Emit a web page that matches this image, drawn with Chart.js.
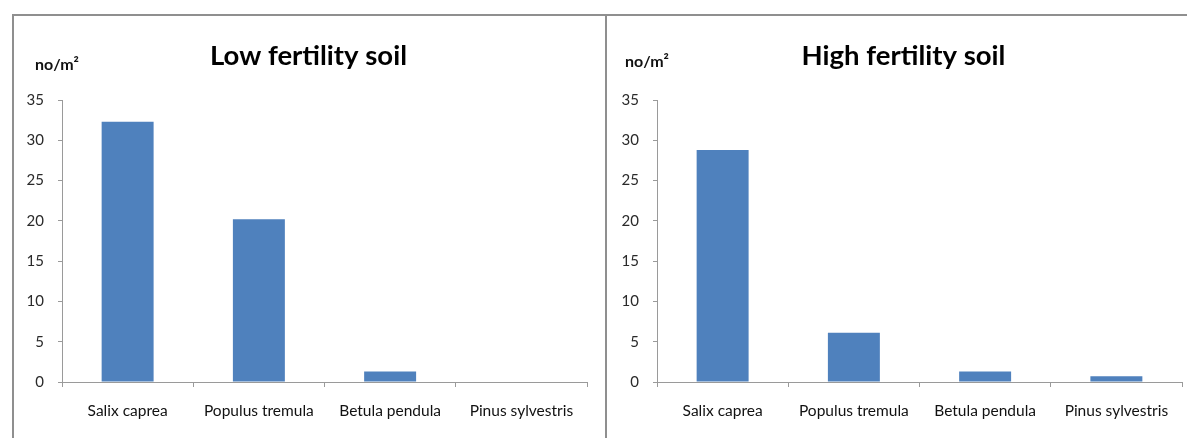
<!DOCTYPE html>
<html>
<head>
<meta charset="utf-8">
<script src="https://cdn.jsdelivr.net/npm/chart.js@4.4.1/dist/chart.umd.min.js"></script>
<style>
  html, body { margin: 0; padding: 0; background: #ffffff; }
  body { width: 1187px; height: 438px; overflow: hidden; position: relative; }
  .frame { position: absolute; box-sizing: border-box; }
  #frameLow { left: 12px; top: 14px; width: 595px; height: 440px; border: 2px solid #8f8f8f; border-bottom: none; }
  #frameHigh { left: 607px; top: 14px; width: 600px; height: 440px; border-top: 2px solid #8f8f8f; }
  canvas { position: absolute; top: 14px; }
  #lowChart { left: 12px; }
  #highChart { left: 607px; }
</style>
</head>
<body>
<div class="frame" id="frameLow"></div>
<div class="frame" id="frameHigh"></div>
<canvas id="lowChart" width="593" height="424"></canvas>
<canvas id="highChart" width="593" height="424"></canvas>
<script>
// Seedling density by species (no/m²)
const categories = ['Salix caprea', 'Populus tremula', 'Betula pendula', 'Pinus sylvestris'];
const lowFertility = [32.3, 20.2, 1.3, 0];
const highFertility = [28.8, 6.1, 1.3, 0.7];
const yMin = 0;
const yMax = 35;
const yStep = 5;
const unitLabel = 'no/m²';

const barColor = '#4F81BD';
const axisColor = '#9a9a9a';
const fontFamily = 'Lato, "Liberation Sans", sans-serif';

// Small unit caption drawn above the value axis
function unitPlugin(x, y) {
  return {
    id: 'unitCaption',
    afterDraw(chart) {
      const ctx = chart.ctx;
      ctx.save();
      ctx.font = 'bold 16px ' + fontFamily;
      ctx.fillStyle = '#111111';
      ctx.textAlign = 'left';
      ctx.textBaseline = 'middle';
      ctx.fillText(unitLabel, x, y);
      ctx.restore();
    }
  };
}

function makeChart(canvasId, titleText, values, unitX, unitY) {
  return new Chart(document.getElementById(canvasId), {
    type: 'bar',
    data: {
      labels: categories,
      datasets: [{
        data: values,
        backgroundColor: barColor,
        borderWidth: 0,
        categoryPercentage: 1.0,
        barPercentage: 0.396
      }]
    },
    options: {
      responsive: false,
      animation: false,
      devicePixelRatio: 1,
      layout: { padding: 0 },
      plugins: {
        legend: { display: false },
        tooltip: { enabled: false },
        title: {
          display: true,
          text: titleText,
          color: '#000000',
          font: { family: fontFamily, weight: 'bold', size: 27.5 },
          padding: { top: 26, bottom: 27 }
        }
      },
      scales: {
        x: {
          offset: true,
          grid: {
            display: true,
            offset: true,
            drawOnChartArea: false,
            drawTicks: true,
            tickLength: 5,
            color: axisColor
          },
          border: { display: true, color: axisColor, width: 1 },
          ticks: {
            color: '#111111',
            font: { family: fontFamily, size: 15.5 },
            padding: 15,
            maxRotation: 0,
            autoSkip: false
          },
          afterFit(scale) { scale.height = 56; }
        },
        y: {
          min: yMin,
          max: yMax,
          grid: {
            display: true,
            drawOnChartArea: false,
            drawTicks: true,
            tickLength: 4,
            color: axisColor
          },
          border: { display: true, color: axisColor, width: 1 },
          ticks: {
            stepSize: yStep,
            color: '#2a2a2a',
            font: { family: fontFamily, size: 15 },
            padding: 14
          },
          afterFit(scale) { scale.width = 50; }
        },
        // empty right-hand margin so the title stays centred on the whole panel
        margin: {
          type: 'linear',
          position: 'right',
          display: true,
          grid: { display: false, drawTicks: false },
          border: { display: false },
          ticks: { display: false },
          afterFit(scale) { scale.width = 18; }
        }
      }
    },
    plugins: [unitPlugin(unitX, unitY)]
  });
}

makeChart('lowChart', 'Low fertility soil', lowFertility, 23, 51);
makeChart('highChart', 'High fertility soil', highFertility, 18, 48);
</script>
</body>
</html>
